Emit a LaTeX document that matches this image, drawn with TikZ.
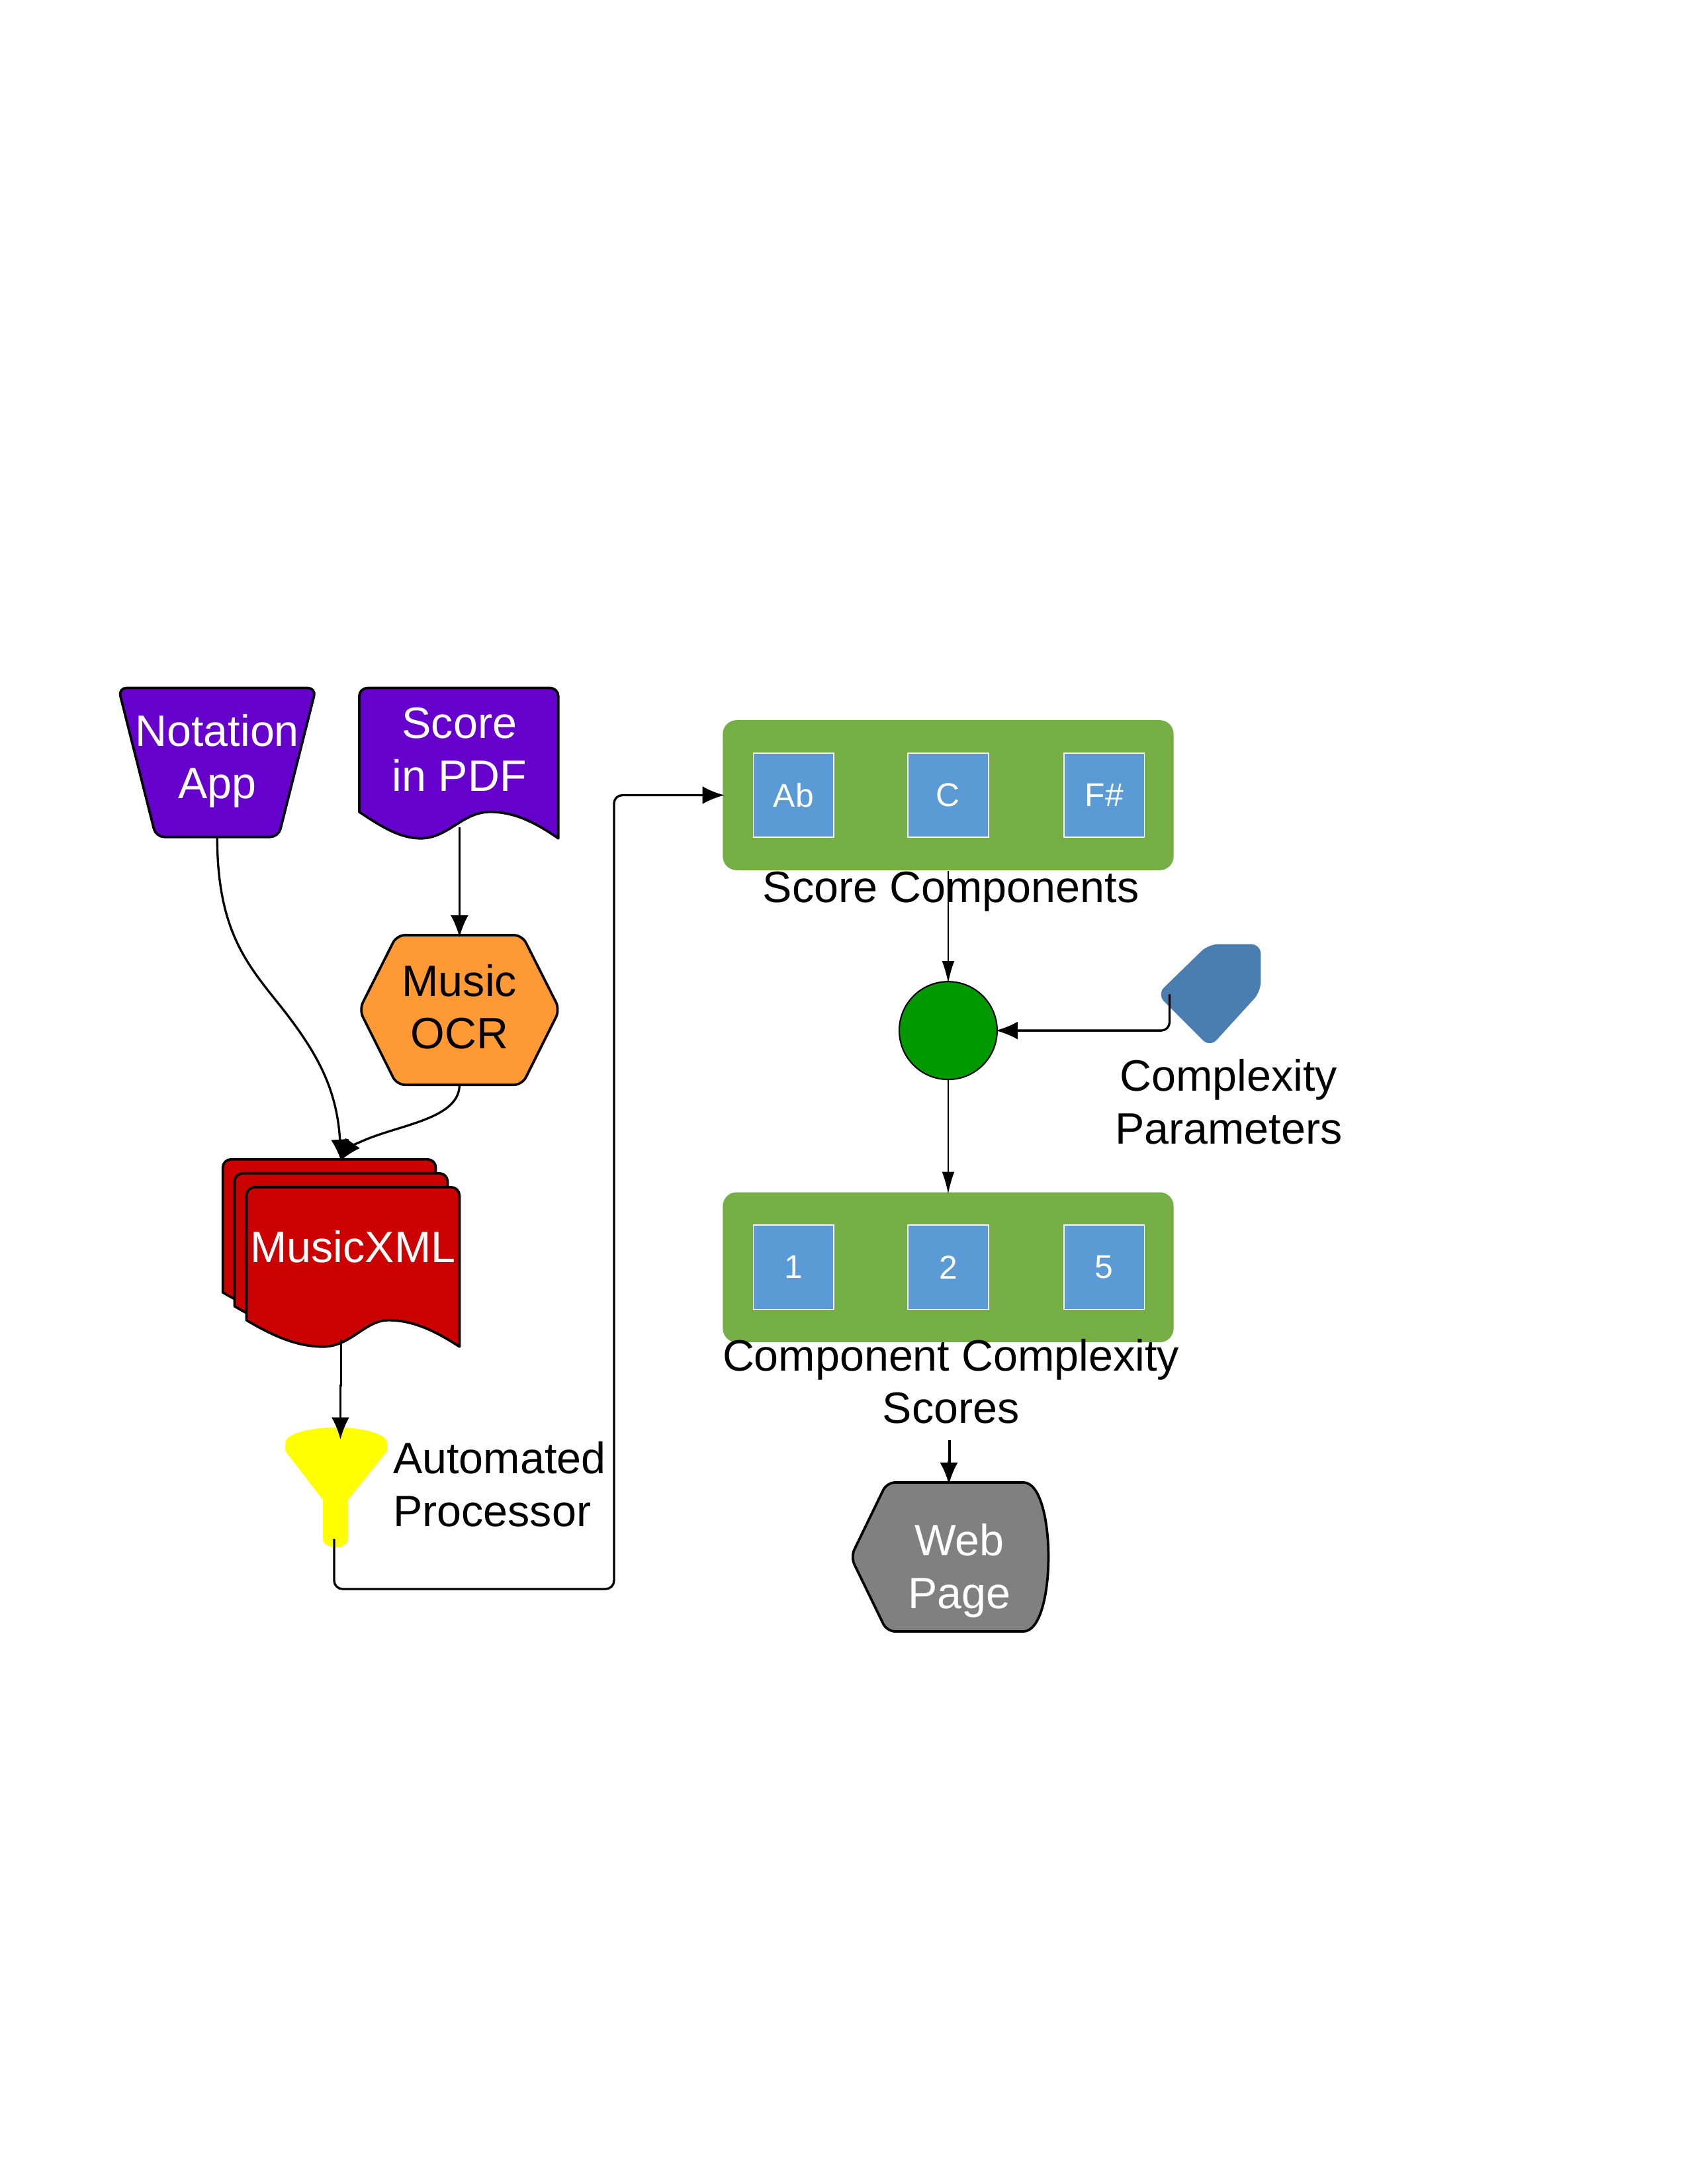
\documentclass[tikz,border=0pt]{standalone}
\usepackage{fontspec}
\setmainfont{Liberation Sans}
\usetikzlibrary{arrows.meta}
\definecolor{appviolet}{HTML}{6600CC}
\definecolor{ocrorange}{HTML}{FF9933}
\definecolor{xmlred}{HTML}{CC0000}
\definecolor{funnelyellow}{RGB}{255,255,0}
\definecolor{boxgreen}{HTML}{75AE45}
\definecolor{cellblue}{HTML}{5B9BD5}
\definecolor{tagblue}{HTML}{4A7EB1}
\definecolor{joingreen}{HTML}{009900}
\definecolor{webgray}{HTML}{808080}
\tikzset{
  outline/.style={draw=black, line width=0.9pt, line join=round},
  bigtext/.style={font=\fontsize{16}{19.2}\selectfont, align=center, inner sep=0pt},
  cell/.style={draw=white, line width=0.4pt, fill=cellblue, text=white, inner sep=0pt,
    minimum width=29.2bp, minimum height=30.5bp, font=\fontsize{12}{14.4}\selectfont},
  panel/.style={fill=boxgreen, rounded corners=5bp, inner sep=0pt,
    minimum width=163.5bp, minimum height=54.4bp},
  conn/.style={line width=0.8pt, shorten >=-0.8bp, -{Latex[length=8bp,width=6.5bp]}},
  thinconn/.style={line width=0.4pt, shorten >=-0.8bp, -{Latex[length=8bp,width=4.5bp]}}
}
\begin{document}
\begin{tikzpicture}[x=0.505bp, y=-0.505bp]
    \useasboundingbox (0,0) rectangle (1211.9,1568.3);

    % shapes
    \draw[outline, fill=appviolet, rounded corners=3bp] (85,494) -- (227,494) -- (200,601) -- (112,601) -- cycle;
    \draw[outline, fill=appviolet] (258,583) [rounded corners=3bp] -- (258,494) -- (401,494) -- (401,560) [sharp corners] -- (401,602)
      .. controls (385,591) and (370,583) .. (352,583) .. controls (332,583) and (322,602) .. (302,602)
      .. controls (287,602) and (273,593) .. (258,583) -- cycle;
    \draw[outline, fill=ocrorange, rounded corners=3bp] (258,725) -- (285,671.5) -- (375,671.5) -- (402,725) -- (375,779) -- (285,779) -- cycle;
    \foreach \dx/\dy in {0/0, 8.5/10, 17/20} {
      \draw[outline, fill=xmlred, shift={(\dx,\dy)}] (160,928) [rounded corners=3bp] -- (160,832.5) -- (313,832.5) -- (313,880) [sharp corners] -- (313,947)
        .. controls (296,936) and (280,928) .. (262,928) .. controls (245,928) and (235,947) .. (215,947)
        .. controls (195,947) and (177,938) .. (160,928) -- cycle;
    }
    \fill[funnelyellow] (205,1036) .. controls (205,1029) and (225,1025) .. (241.5,1025) .. controls (258,1025) and (278,1029) .. (278,1036)
      -- (278,1042) -- (250,1077) -- (250,1105) .. controls (250,1113) and (232,1113) .. (232,1105) -- (232,1077) -- (205,1042) -- cycle;
    \fill[tagblue, rounded corners=3.5bp] (868,678) -- (905.5,678) -- (905.5,712) -- (869,752) -- (831,714) -- cycle;
    \draw[outline, fill=webgray, rounded corners=3bp] (611,1118) -- (637,1064.5) -- (720,1064.5) [sharp corners] -- (735,1064.5)
      .. controls (759,1064.5) and (759,1171.5) .. (735,1171.5) [rounded corners=3bp] -- (637,1171.5) -- cycle;

    % nodes
    \node[bigtext, text=white] (notation) at (156,546.5) {Notation\\App};
    \node[bigtext, text=white] (pdf) at (330,538) {Score\\in PDF};
    \node[bigtext] (ocr) at (330,723) {Music\\OCR};
    \node[bigtext, text=white] (xml) at (253.5,895) {MusicXML};
    \node[bigtext, align=left, anchor=west] (processor) at (282,1066) {Automated\\Processor};
    \node[panel] (parts) at (681,571) {};
    \node[cell] (ab) at (570,571) {Ab};
    \node[cell] (c) at (681,571) {C};
    \node[cell] (fsharp) at (793,571) {F\#};
    \node[bigtext] (partslabel) at (683,640) {Score Components};
    \node[circle, draw=black, line width=0.5pt, fill=joingreen, minimum size=35.5bp, inner sep=0pt] (join) at (681,740) {};
    \node[bigtext] (paramlabel) at (882.5,791) {Complexity\\Parameters};
    \node[panel] (scores) at (681,910) {};
    \node[cell] (one) at (570,910) {1};
    \node[cell] (two) at (681,910) {2};
    \node[cell] (five) at (793,910) {5};
    \node[bigtext] (scorelabel) at (683,992) {Component Complexity\\Scores};
    \node[bigtext, text=white] (web) at (689,1128) {Web\\Page};

    % connector ends
    \coordinate (pdfout) at (330,594);
    \coordinate (ocrin) at (330,671.5);
    \coordinate (ocrout) at (330,779);
    \coordinate (appout) at (156,601);
    \coordinate (xmlin) at (245,832.5);
    \coordinate (xmlout) at (245,962);
    \coordinate (funnelin) at (244.5,1032);
    \coordinate (funnelout) at (240,1105);
    \coordinate (tagout) at (840,714);
    \coordinate (listout) at (682,1034);
    \coordinate (webin) at (681.5,1064.5);

    % connectors
    \draw[conn] (appout) .. controls (156,672) and (180,695) .. (205,727) .. controls (228,757) and (242,782) .. (xmlin);
    \draw[conn] (pdfout) -- (ocrin);
    \draw[conn] (ocrout) .. controls (330,802) and (292,807) .. (266,817) .. controls (258,820) and (251,824) .. (xmlin);
    \draw[conn] (xmlout) -- (245,995) -- (244.5,995) -- (funnelin);
    \draw[conn, rounded corners=3bp] (funnelout) |- (441,1141) |- (parts.west);
    \draw[thinconn] (parts.south) -- (join.north);
    \draw[conn, rounded corners=3bp] (tagout) |- (join.east);
    \draw[thinconn] (join.south) -- (scores.north);
    \draw[conn] (listout) -- (682,1050) -- (681.5,1050) -- (webin);
\end{tikzpicture}
\end{document}
